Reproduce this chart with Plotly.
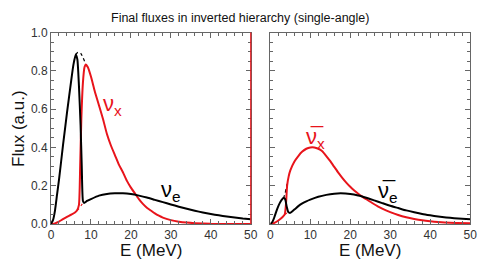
import plotly.graph_objects as go

# ---------------- data ----------------
# Left panel: neutrinos
nue_E = [0, 0.5, 1, 1.5, 2, 3, 4, 5, 5.6, 6.2, 6.6, 7.0, 7.4, 7.7, 8.0, 8.3, 9, 10, 12, 14, 16, 18,
         20, 22, 24, 26, 28, 30, 32, 34, 36, 38, 40, 42, 44, 46, 48, 50]
nue_F = [0, 0.02, 0.07, 0.15, 0.23, 0.41, 0.58, 0.74, 0.83, 0.885, 0.86, 0.72, 0.52, 0.30, 0.12, 0.11,
         0.12, 0.13, 0.148, 0.157, 0.16, 0.16, 0.156, 0.148, 0.138, 0.126, 0.114, 0.102, 0.09, 0.079,
         0.069, 0.06, 0.052, 0.045, 0.039, 0.034, 0.029, 0.025]

nux_E = [0, 0.5, 1, 2, 3, 4, 5, 6, 6.5, 7.0, 7.3, 7.6, 8.0, 8.4, 8.7, 9.2, 10, 11, 12, 13, 14, 15, 16,
         17, 18, 19, 20, 21, 22, 23, 24, 25, 26, 27, 28, 30, 32, 34, 36, 40, 50]
nux_F = [0, 0, 0.003, 0.012, 0.025, 0.037, 0.048, 0.06, 0.07, 0.10, 0.30, 0.55, 0.74, 0.82, 0.833,
         0.82, 0.77, 0.69, 0.62, 0.55, 0.47, 0.41, 0.36, 0.31, 0.27, 0.225, 0.19, 0.16, 0.13, 0.105,
         0.085, 0.07, 0.055, 0.043, 0.033, 0.02, 0.012, 0.007, 0.004, 0.001, 0]

# dotted: initial spectra hidden by the swap (left)
nue0_E = [6.2, 6.6, 7.0, 7.5, 8.0, 8.4, 8.7]
nue0_F = [0.886, 0.895, 0.898, 0.89, 0.87, 0.85, 0.833]
nux0_E = [6.5, 7.0, 7.5, 8.0]
nux0_F = [0.07, 0.08, 0.095, 0.11]

# Right panel: antineutrinos
anue_E = [0, 0.5, 1, 1.7, 2.5, 3.3, 3.7, 4.1, 4.5, 5, 6, 7, 8, 9, 10, 12, 14, 16, 17.6, 20, 22, 24,
          26, 28, 30, 32, 34, 36, 38, 40, 42, 44, 46, 48, 50]
anue_F = [0, 0.01, 0.035, 0.078, 0.115, 0.135, 0.13, 0.09, 0.062, 0.058, 0.075, 0.093, 0.107, 0.118,
          0.127, 0.142, 0.152, 0.158, 0.16, 0.157, 0.149, 0.137, 0.123, 0.109, 0.095, 0.083, 0.071,
          0.061, 0.052, 0.045, 0.039, 0.034, 0.03, 0.027, 0.024]

anux_E = [0, 0.5, 1, 2, 3, 3.6, 3.9, 4.2, 4.6, 5, 6, 7, 8, 9, 10, 11, 12, 13, 14, 15, 16, 17, 18, 19,
          20, 21, 22, 23, 24, 25, 26, 27, 28, 30, 32, 34, 36, 38, 40, 42, 45, 50]
anux_F = [0, 0, 0.005, 0.018, 0.035, 0.05, 0.10, 0.20, 0.25, 0.28, 0.325, 0.355, 0.378, 0.393, 0.40,
          0.40, 0.393, 0.38, 0.355, 0.328, 0.298, 0.268, 0.241, 0.216, 0.194, 0.175, 0.158, 0.143,
          0.129, 0.116, 0.103, 0.091, 0.08, 0.062, 0.047, 0.035, 0.026, 0.019, 0.014, 0.01, 0.006,
          0.003]

anue0_E = [3.3, 3.7, 4.0, 4.3]
anue0_F = [0.135, 0.16, 0.19, 0.22]
anux0_E = [3.6, 4.0, 4.5]
anux0_F = [0.05, 0.055, 0.062]

x_ticks = [0, 10, 20, 30, 40, 50]
y_ticks = [0.0, 0.2, 0.4, 0.6, 0.8, 1.0]

RED = "#e8141b"
BLACK = "#000000"
FONT = "Liberation Sans, Arial, sans-serif"

fig = go.Figure()

def add(xs, ys, color, xa, ya, dash="solid", width=2.0):
    fig.add_trace(go.Scatter(x=xs, y=ys, mode="lines", xaxis=xa, yaxis=ya,
                             line=dict(color=color, width=width, dash=dash, shape="spline",
                                       smoothing=0.5),
                             showlegend=False, hoverinfo="skip"))

# left
add(nue0_E, nue0_F, BLACK, "x", "y", dash="dot", width=1.2)
add(nux0_E, nux0_F, RED, "x", "y", dash="dot", width=1.2)
add(nux_E, nux_F, RED, "x", "y")
add(nue_E, nue_F, BLACK, "x", "y")
# right
add(anue0_E, anue0_F, BLACK, "x2", "y2", dash="dot", width=1.2)
add(anux0_E, anux0_F, RED, "x2", "y2", dash="dot", width=1.2)
add(anux_E, anux_F, RED, "x2", "y2")
add(anue_E, anue_F, BLACK, "x2", "y2")

W, H = 483, 266

def px(x):
    return x / W

def py(y):
    return 1 - y / H

xd1 = [px(49), px(253)]
xd2 = [px(273), px(477)]
yd = [py(229), py(27)]

axcommon = dict(showline=True, linecolor="#666666", linewidth=1, mirror="ticks",
                ticks="inside", ticklen=5, tickcolor="#666666", tickwidth=1,
                showgrid=False, zeroline=False,
                tickfont=dict(family=FONT, size=12, color="#333333"))

xax = dict(axcommon, range=[0, 50], tickvals=x_ticks, ticktext=[str(v) for v in x_ticks],
           minor=dict(dtick=2, ticklen=3, ticks="inside", tickcolor="#666666"))
yax = dict(axcommon, range=[0, 1], tickvals=y_ticks, tickformat=".1f",
           minor=dict(dtick=0.05, ticklen=3, ticks="inside", tickcolor="#666666"))

fig.update_layout(
    width=W, height=H, autosize=False,
    margin=dict(l=0, r=0, t=0, b=0),
    paper_bgcolor="white", plot_bgcolor="white",
    xaxis=dict(xax, domain=xd1, anchor="y"),
    yaxis=dict(yax, domain=yd, anchor="x"),
    xaxis2=dict(xax, domain=xd2, anchor="y2"),
    yaxis2=dict(yax, domain=yd, anchor="x2", showticklabels=False),
)

# red right border of left panel
fig.add_shape(type="line", xref="x domain", yref="y domain", x0=1, x1=1, y0=0, y1=1,
              line=dict(color=RED, width=1.2))

ann = []
ann.append(dict(text="Final fluxes in inverted hierarchy (single-angle)", xref="paper", yref="paper",
                x=px(242), y=py(12), showarrow=False, xanchor="center", yanchor="middle",
                font=dict(family=FONT, size=12.5, color="#111111")))
for xc in [(xd1[0] + xd1[1]) / 2, (xd2[0] + xd2[1]) / 2]:
    ann.append(dict(text="E (MeV)", xref="paper", yref="paper", x=xc, y=py(257),
                    showarrow=False, xanchor="center", yanchor="middle",
                    font=dict(family=FONT, size=17, color="#111111")))
ann.append(dict(text="Flux (a.u.)", xref="paper", yref="paper", x=px(16), y=py(128),
                showarrow=False, textangle=-90, xanchor="center", yanchor="middle",
                font=dict(family=FONT, size=17, color="#111111")))

labfont_r = dict(family=FONT, size=22, color=RED)
labfont_k = dict(family=FONT, size=22, color=BLACK)
ann.append(dict(text="ν<sub>x</sub>", xref="x", yref="y", x=15.5, y=0.62, showarrow=False,
                font=labfont_r))
ann.append(dict(text="ν<sub>e</sub>", xref="x", yref="y", x=30.0, y=0.17, showarrow=False,
                font=labfont_k))
ann.append(dict(text="ν\u0305<sub>x</sub>", xref="x2", yref="y2", x=11.2, y=0.45, showarrow=False,
                font=labfont_r))
ann.append(dict(text="ν\u0305<sub>e</sub>", xref="x2", yref="y2", x=29.5, y=0.165, showarrow=False,
                font=labfont_k))
fig.update_layout(annotations=ann)

# remove the browser's default 8px body margin so figure pixels match the window
fig.write_html("out.html", config={"displayModeBar": False},
               post_script="document.body.style.margin='0';document.body.style.overflow='hidden';")
